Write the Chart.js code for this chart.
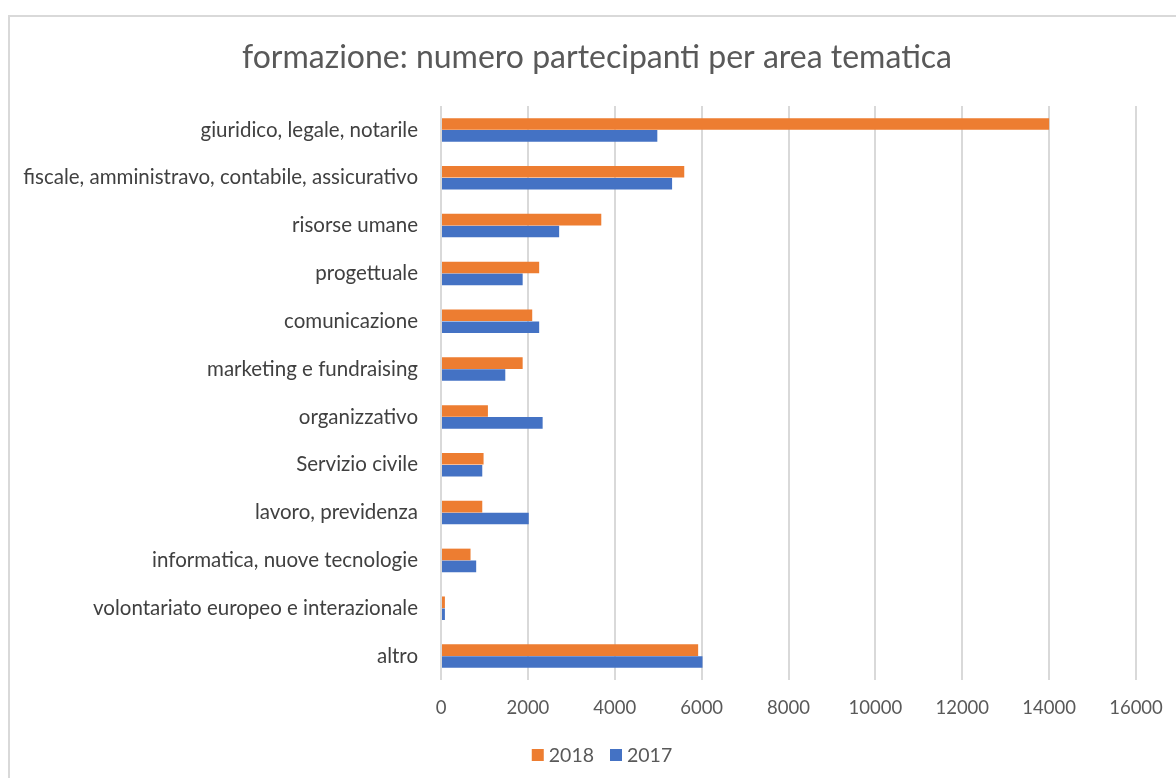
<!DOCTYPE html>
<html>
<head>
<meta charset="utf-8">
<script src="https://cdn.jsdelivr.net/npm/chart.js@4/dist/chart.umd.min.js"></script>
<style>
html,body{margin:0;padding:0;background:#fff;}
#wrap{width:1176px;height:778px;position:relative;}
</style>
</head>
<body>
<div id="wrap"><canvas id="c" width="1176" height="778"></canvas></div>
<script>
const categories = [
  "giuridico, legale, notarile",
  "fiscale, amministravo, contabile, assicurativo",
  "risorse umane",
  "progettuale",
  "comunicazione",
  "marketing e fundraising",
  "organizzativo",
  "Servizio civile",
  "lavoro, previdenza",
  "informatica, nuove tecnologie",
  "volontariato europeo e interazionale",
  "altro"
];
const values2018 = [14000, 5600, 3690, 2260, 2100, 1880, 1080, 980, 950, 680, 90, 5920];
const values2017 = [4980, 5320, 2720, 1880, 2260, 1480, 2340, 950, 2020, 810, 90, 6020];
const xTicks = [0, 2000, 4000, 6000, 8000, 10000, 12000, 14000, 16000];
const titleText = "formazione: numero partecipanti per area tematica";
const FONT = "Lato, 'Open Sans', sans-serif";

const decorPlugin = {
  id: 'decor',
  beforeDraw(chart) {
    const ctx = chart.ctx;
    ctx.save();
    ctx.fillStyle = '#fff';
    ctx.fillRect(0, 0, chart.width, chart.height);
    ctx.strokeStyle = '#d9d9d9';
    ctx.lineWidth = 2;
    ctx.strokeRect(9, 16, chart.width + 20, chart.height + 20);
    ctx.restore();
  },
  afterDraw(chart) {
    const ctx = chart.ctx;
    ctx.save();
    // title
    ctx.fillStyle = '#595959';
    ctx.font = "32px " + FONT;
    ctx.textAlign = 'center';
    ctx.textBaseline = 'middle';
    ctx.fillText(titleText, 597, 58);
    // legend
    ctx.font = "19.5px " + FONT;
    ctx.textAlign = 'left';
    const box = 12, gap = 5, itemGap = 16;
    const items = chart.data.datasets.map(ds => ({ label: ds.label, color: ds.backgroundColor, w: ctx.measureText(ds.label).width }));
    const total = items.reduce((s, it) => s + box + gap + it.w, 0) + itemGap * (items.length - 1);
    let x = 602 - total / 2;
    const cy = 755;
    items.forEach(it => {
      ctx.fillStyle = it.color;
      ctx.fillRect(x, cy - box / 2, box, box);
      x += box + gap;
      ctx.fillStyle = '#595959';
      ctx.fillText(it.label, x, cy + 1);
      x += it.w + itemGap;
    });
    ctx.restore();
  }
};

new Chart(document.getElementById('c'), {
  type: 'bar',
  data: {
    labels: categories,
    datasets: [
      { label: '2018', data: values2018, backgroundColor: '#ED7D31', borderWidth: 0, barPercentage: 0.97, categoryPercentage: 0.5 },
      { label: '2017', data: values2017, backgroundColor: '#4472C4', borderWidth: 0, barPercentage: 0.97, categoryPercentage: 0.5 }
    ]
  },
  options: {
    indexAxis: 'y',
    responsive: false,
    animation: false,
    devicePixelRatio: 1,
    layout: { padding: { left: 10, right: 40, top: 106, bottom: 46 } },
    plugins: {
      title: { display: false },
      legend: { display: false },
      tooltip: { enabled: false }
    },
    scales: {
      x: {
        min: 0,
        max: 16000,
        afterBuildTicks(scale) { scale.ticks = xTicks.map(v => ({ value: v })); },
        afterFit(scale) { scale.height = 52; scale.paddingLeft = 0; scale.paddingRight = 0; },
        grid: { color: '#d9d9d9', lineWidth: 2, drawTicks: false },
        border: { display: false },
        ticks: { color: '#595959', font: { family: FONT, size: 18.5 }, padding: 17, callback: v => String(v) }
      },
      y: {
        afterFit(scale) { scale.width = 431; scale.paddingTop = 0; scale.paddingBottom = 0; },
        grid: { display: false, drawTicks: false },
        border: { display: false },
        ticks: { color: '#404040', font: { family: FONT, size: 20.5 }, padding: 23 }
      }
    }
  },
  plugins: [decorPlugin]
});
</script>
</body>
</html>
